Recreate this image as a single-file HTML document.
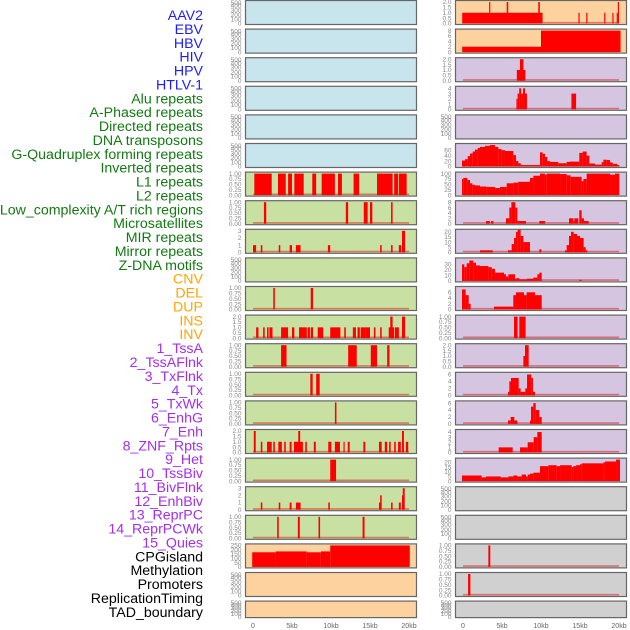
<!DOCTYPE html>
<html><head><meta charset="utf-8"><style>
html,body{margin:0;padding:0;background:#fff;}
svg{display:block;font-family:"Liberation Sans",sans-serif;}
</style></head><body>
<svg id="chart" width="630" height="630" xmlns="http://www.w3.org/2000/svg"></svg>
<script>
// ---------- labels ----------
const labelNames = ["AAV2","EBV","HBV","HIV","HPV","HTLV-1","Alu repeats","A-Phased repeats","Directed repeats","DNA transposons","G-Quadruplex forming repeats","Inverted repeats","L1 repeats","L2 repeats","Low_complexity A/T rich regions","Microsatellites","MIR repeats","Mirror repeats","Z-DNA motifs","CNV","DEL","DUP","INS","INV","1_TssA","2_TssAFlnk","3_TxFlnk","4_Tx","5_TxWk","6_EnhG","7_Enh","8_ZNF_Rpts","9_Het","10_TssBiv","11_BivFlnk","12_EnhBiv","13_ReprPC","14_ReprPCWk","15_Quies","CPGisland","Methylation","Promoters","ReplicationTiming","TAD_boundary"];
const labelGroups = [0,0,0,0,0,0,1,1,1,1,1,1,1,1,1,1,1,1,1,2,2,2,2,2,3,3,3,3,3,3,3,3,3,3,3,3,3,3,3,4,4,4,4,4];
const groupColors = ["#1c1cff","#137a13","#ffa500","#a22ef0","#000000"];

// ---------- x axis ----------
const xTickVals = [0,5,10,15,20];
const xTickLabels = ["0","5kb","10kb","15kb","20kb"];

// ---------- tick label sets ----------
const tEmpty = ["0","100","200","300","400","500"];
const t1 = ["0.00","0.25","0.50","0.75","1.00"];
const t1v = [0,0.25,0.5,0.75,1];
const t2 = ["0.0","0.5","1.0","1.5","2.0"];
const t2v = [0,0.5,1,1.5,2];

// ---------- left column series (kb start, kb end, value) ----------
const segL6 = [[0.17,2.4,1],[3.2,4.2,1],[4.5,5.0,1],[5.3,6.5,1],[7.6,8.1,1],[8.8,10.5,1],[10.9,11.4,1],[12.9,13.6,1],[15.9,17.9,1],[18.1,18.6,1],[18.7,19.7,1]];
const segL7 = [[1.4,1.7,1],[11.9,12.2,1],[14.2,14.7,1],[15.0,15.3,1],[17.7,17.9,1]];
const segL8 = [[0.0,0.4,1],[1.0,1.2,1],[3.3,3.5,1],[4.7,5.0,1],[5.5,6.1,1],[9.6,9.9,1],[16.3,16.5,1],[17.7,17.9,1],[18.7,19.0,1],[19.1,19.5,3]];
const segL10 = [[2.6,2.8,1],[7.4,7.7,1]];
const segL11 = [[0.4,0.7,1],[1.3,1.5,1],[1.8,2.0,1],[2.1,2.5,1],[3.6,4.5,1],[5.0,5.3,1],[5.9,6.9,1],[7.0,7.3,1],[7.4,7.7,1],[8.3,9.0,1],[9.9,11.2,1],[11.7,11.9,1],[12.8,13.2,1],[13.4,13.7,1],[13.8,14.4,1],[14.4,15.0,1],[15.5,15.7,1],[16.3,16.5,1],[17.4,18.1,1],[17.6,17.9,2],[18.2,18.7,1],[19.1,19.5,2]];
const segL12 = [[3.6,4.3,1],[12.2,13.3,1],[15.1,15.9,1],[17.2,17.5,1]];
const segL13 = [[7.35,7.65,1],[8.1,8.55,1]];
const segL14 = [[10.5,10.7,1]];
const segL15 = [[0.1,0.35,2],[1.0,1.2,1],[1.8,2.4,1],[2.6,2.8,1],[3.25,3.7,1],[4.0,4.2,1],[4.7,4.95,1],[5.25,6.4,1],[5.8,6.05,2],[6.7,6.9,1],[7.8,8.05,1],[9.65,10.05,1],[10.5,11.15,1],[11.6,11.75,1],[12.15,12.4,1],[14.15,14.4,1],[16.15,16.5,1],[16.9,17.2,1],[17.45,17.65,1],[18.1,18.3,1],[18.6,18.95,1],[19.1,19.35,2],[19.6,19.9,1]];
const segL16 = [[9.9,10.65,1]];
const segL17 = [[1.0,1.2,1],[3.3,3.5,1],[4.7,4.95,1],[5.5,6.1,1],[9.65,9.85,1],[16.15,16.4,1],[16.3,16.5,2],[17.7,17.9,1],[18.7,18.95,1],[19.1,19.2,2],[19.2,19.45,3]];
const segL18 = [[3.1,3.3,1],[5.75,6.0,1],[8.4,8.6,1],[14.05,14.3,1]];
const segL19 = [[-0.1,2.9,170],[2.9,6.9,180],[6.9,8.7,170],[8.7,9.9,180],[9.9,20.1,250]];

// ---------- right column series ----------
const segR0 = [[-0.1,10.2,1],[3.35,3.5,2],[5.6,5.8,2],[9.65,9.85,2],[14.8,14.95,1],[15.8,15.95,1],[18.1,18.25,1],[19.15,19.3,1],[19.7,19.85,1],[19.85,20.0,2]];
const segR1 = [[-0.1,10.0,2],[10.0,20.2,8]];
const segR2 = [[6.9,8.0,1],[7.3,7.75,2]];
const segR3 = [[6.85,7.0,2],[7.0,7.2,3],[7.2,7.45,4],[7.45,7.7,3],[7.7,7.95,4],[7.95,8.2,3],[13.9,14.5,3]];
const segR5 = [[-0.13,0.26,22],[0.26,0.6,27],[0.6,0.9,38],[0.9,1.24,48],[1.24,1.54,55],[1.54,1.88,62],[1.88,2.18,68],[2.18,2.82,72],[2.82,3.46,76],[3.46,4.1,79],[4.1,4.53,72],[4.53,4.96,64],[4.96,5.38,60],[5.38,6.45,57],[6.45,6.8,42],[6.8,7.1,20],[7.1,7.4,12],[7.4,7.65,6],[7.65,9.87,5],[9.87,10.21,52],[10.21,10.51,47],[10.51,10.81,35],[10.81,11.15,20],[11.15,12.22,17],[12.22,13.29,12],[13.29,13.72,17],[13.72,14.91,18],[14.91,15.34,50],[15.34,15.85,55],[15.85,16.2,40],[16.2,16.92,11],[16.92,17.78,7],[17.78,17.99,16],[17.99,18.42,25],[18.42,18.85,24],[18.85,19.19,15],[19.19,19.79,10],[19.79,20.04,5]];
const segR6 = [[-0.13,0.04,75],[0.04,0.56,80],[0.56,0.9,70],[0.9,1.2,55],[1.2,1.54,48],[1.54,2.18,45],[2.18,3.03,40],[3.03,4.1,38],[4.1,4.74,33],[4.74,5.6,38],[5.6,6.45,55],[6.45,7.09,58],[7.09,8.59,62],[8.59,9.02,80],[9.02,9.87,90],[9.87,10.51,100],[10.51,10.73,95],[10.73,12.44,100],[12.44,13.29,98],[13.29,13.8,92],[13.8,15.21,85],[15.21,15.43,65],[15.43,15.85,75],[15.85,18.85,100],[18.85,19.49,95],[19.49,20.04,100]];
const segR7 = [[2.95,3.45,1],[3.6,3.9,1],[5.51,5.94,2],[5.94,6.2,6],[6.2,6.71,8],[6.71,6.97,6],[6.97,8.08,1],[9.79,10.51,1],[13.59,14.15,2],[14.15,14.27,1],[14.27,14.79,2],[14.91,15.21,5],[15.21,15.51,2],[15.51,16.11,1]];
const segR8 = [[2.18,3.8,2],[5.77,6.24,2],[6.24,6.54,8],[6.54,6.79,14],[6.79,7.01,20],[7.01,7.39,22],[7.39,7.74,16],[7.74,8.59,10],[9.79,10.04,3],[13.08,13.29,2],[13.29,13.59,7],[13.59,13.85,16],[13.85,14.19,20],[14.19,14.62,18],[14.62,15.0,16],[15.0,15.47,14],[15.47,15.73,5],[15.73,15.94,2]];
const segR9 = [[-0.13,0.17,30],[0.17,0.47,25],[0.47,0.81,32],[0.81,1.32,37],[1.32,1.67,33],[1.67,2.18,28],[2.18,3.25,27],[3.25,3.68,25],[3.68,4.1,22],[4.1,5.26,15],[5.26,5.51,12],[5.51,5.81,8],[5.81,6.67,12],[6.67,6.88,4],[6.88,7.22,5],[7.22,8.16,3],[8.16,9.02,4],[9.02,9.53,6],[9.53,9.79,12],[9.79,10.09,15],[14.91,15.21,2]];
const segR10 = [[-0.13,0.34,7],[0.34,0.73,5],[0.73,0.98,2],[3.97,6.45,1],[6.45,6.79,5],[6.79,7.82,6],[7.82,8.16,5],[8.16,9.23,6],[9.23,10.09,5]];
const segR11 = [[6.54,7.0,1],[7.22,8.03,1]];
const segR12 = [[7.74,7.95,1],[7.95,8.42,2]];
const segR13 = [[5.77,5.94,1],[5.94,6.15,4],[6.15,7.14,5],[7.14,7.39,2],[7.39,7.99,1],[7.99,8.21,2],[8.21,8.76,6],[8.76,8.97,5],[8.97,9.23,1]];
const segR14 = [[5.77,6.11,1],[6.11,6.58,2],[6.58,6.97,1],[8.59,8.72,1],[8.72,9.02,5],[9.02,9.32,6],[9.32,9.79,4],[9.79,10.09,2]];
const segR15 = [[4.57,6.37,1],[7.31,8.29,1],[8.29,9.06,2],[9.06,9.53,3],[9.53,10.09,4]];
const segR16 = [[-0.13,2.39,6],[2.39,2.95,4],[2.95,4.83,5],[4.83,5.81,4],[5.81,6.45,5],[6.45,6.97,6],[6.97,7.52,5],[7.52,8.08,7],[8.08,8.29,5],[8.29,8.59,7],[8.59,9.02,8],[9.02,9.87,9],[9.87,10.94,16],[10.94,12.01,17],[12.01,12.44,16],[12.44,13.93,17],[13.93,14.15,15],[14.15,14.49,16],[14.49,15.0,17],[15.0,15.21,18],[15.21,17.99,19],[17.99,18.21,20],[18.21,19.62,21],[19.62,20.13,23]];
const segR19 = [[3.25,3.5,1]];
const segR20 = [[0.65,0.95,1]];

// ---------- panel specs: [col,row,bg,ymax,tickVals,tickLabels,segs] ----------
const BG = {blue:"#c8e4ec",green:"#c8e1a3",peach:"#fed29f",lav:"#d5c5e1",gray:"#d0d0d0"};
const panels = [
 [0,0,"blue",0,null,tEmpty,null],[0,1,"blue",0,null,tEmpty,null],[0,2,"blue",0,null,tEmpty,null],
 [0,3,"blue",0,null,tEmpty,null],[0,4,"blue",0,null,tEmpty,null],[0,5,"blue",0,null,tEmpty,null],
 [0,6,"green",1,t1v,t1,segL6],[0,7,"green",1,t1v,t1,segL7],[0,8,"green",3,[0,1,2,3],["0","1","2","3"],segL8],
 [0,9,"green",0,null,tEmpty,null],[0,10,"green",1,t1v,t1,segL10],[0,11,"green",2,t2v,t2,segL11],
 [0,12,"green",1,t1v,t1,segL12],[0,13,"green",1,t1v,t1,segL13],[0,14,"green",1,t1v,t1,segL14],
 [0,15,"green",2,t2v,t2,segL15],[0,16,"green",1,t1v,t1,segL16],[0,17,"green",3,[0,1,2,3],["0","1","2","3"],segL17],
 [0,18,"green",1,t1v,t1,segL18],[0,19,"peach",250,[0,50,100,150,200,250],["0","50","100","150","200","250"],segL19],
 [0,20,"peach",0,null,tEmpty,null],[0,21,"peach",0,null,tEmpty,null],
 [1,0,"peach",2,t2v,t2,segR0],[1,1,"peach",8,[0,2,4,6,8],["0","2","4","6","8"],segR1],
 [1,2,"lav",2,t2v,t2,segR2],[1,3,"lav",4.1,[0,1,2,3,4],["0","1","2","3","4"],segR3],
 [1,4,"lav",0,null,tEmpty,null],[1,5,"lav",79,[0,20,40,60],["0","20","40","60"],segR5],
 [1,6,"lav",100,[0,25,50,75,100],["0","25","50","75","100"],segR6],[1,7,"lav",8,[0,2,4,6,8],["0","2","4","6","8"],segR7],
 [1,8,"lav",21,[0,5,10,15,20],["0","5","10","15","20"],segR8],[1,9,"lav",39,[0,10,20,30],["0","10","20","30"],segR9],
 [1,10,"lav",7.5,[0,2,4,6],["0","2","4","6"],segR10],[1,11,"lav",1,t1v,t1,segR11],
 [1,12,"lav",2,t2v,t2,segR12],[1,13,"lav",6.2,[0,2,4,6],["0","2","4","6"],segR13],
 [1,14,"lav",6.2,[0,2,4,6],["0","2","4","6"],segR14],[1,15,"lav",4.2,[0,1,2,3,4],["0","1","2","3","4"],segR15],
 [1,16,"lav",23,[0,5,10,15,20],["0","5","10","15","20"],segR16],
 [1,17,"gray",0,null,tEmpty,null],[1,18,"gray",0,null,tEmpty,null],
 [1,19,"gray",1,t1v,t1,segR19],[1,20,"gray",1,t1v,t1,segR20],[1,21,"gray",0,null,tEmpty,null]
];

const NS = "http://www.w3.org/2000/svg";
const svg = document.getElementById("chart");
function mk(tag, attrs, parent){
  const e = document.createElementNS(NS, tag);
  for (const k in attrs) e.setAttribute(k, attrs[k]);
  (parent||svg).appendChild(e);
  return e;
}
const colX = [245.5, 455.5], panelW = 171;
const zeroX = [253, 463], pxPerKb = 7.8;
function xScale(col, kb){ return zeroX[col] + kb*pxPerKb; }
function rowTop(r){ return 0.5 + r*28.6; }
function rowH(r){ return r===21 ? 16.5 : 24; }

// labels
labelNames.forEach((n,i)=>{
  const t = mk("text",{x:203,y:20+i*13.88,"text-anchor":"end","font-size":"14.2",fill:groupColors[labelGroups[i]]});
  
  
  t.textContent = n;
});

const emptyFrac = [0,0.2,0.4,0.62,0.82,0.97];
panels.forEach(p=>{
  const [col,row,bg,ymax,tv,tl,segs] = p;
  const x = colX[col], y = rowTop(row), h = rowH(row);
  const g = mk("g",{});
  
  
  const r = mk("rect",{x:x,y:y,width:panelW,height:h,fill:BG[bg],stroke:"none"},g);
  
  
  const top = y+1.5, bot = y+h-1;
  const yScale = v => bot - (v/ymax)*(bot-top);
  if (segs){
    const base = mk("line",{x1:xScale(col,0),x2:xScale(col,20),y1:bot-0.8,y2:bot-0.8,stroke:"rgba(220,0,0,0.45)","stroke-width":1.6},g);
    
    
    segs.forEach(s=>{
      const x0 = xScale(col,s[0]), x1 = xScale(col,s[1]);
      const b = mk("rect",{x:x0,y:yScale(s[2]),width:Math.max(x1-x0,1),height:bot-yScale(s[2]),fill:"#ff0000"},g);
      
      
    });
  }
  const br = mk("rect",{x:x,y:y,width:panelW,height:h,fill:"none",stroke:"#666","stroke-width":1.2},g);
  
  
  // y tick labels
  tl.forEach((lab,i)=>{
    const ty = tv ? yScale(tv[i]) : bot - emptyFrac[i]*(bot-top);
    const t = mk("text",{x:x-4,y:ty+2.2,"text-anchor":"end","font-size":"6.5",fill:"#888"},g);
    
    
    t.textContent = lab;
  });
});

// x ticks
[0,1].forEach(col=>{
  xTickVals.forEach((v,i)=>{
    const t = mk("text",{x:xScale(col,v),y:628,"text-anchor":"middle","font-size":"7",fill:"#666"});
    
    
    t.textContent = xTickLabels[i];
  });
});
</script>
</body></html>
